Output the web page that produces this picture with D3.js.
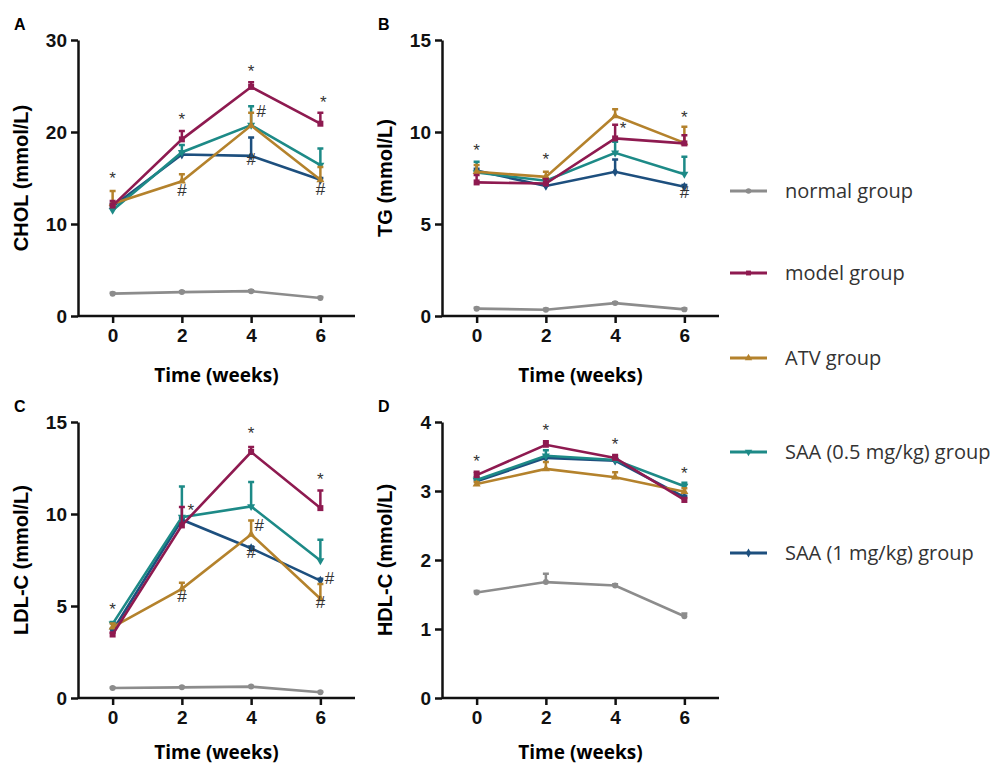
<!DOCTYPE html>
<html>
<head>
<meta charset="utf-8">
<script src="https://cdn.jsdelivr.net/npm/d3@7"></script>
<style>
  body { margin: 0; background: #fff; }
  svg { display: block; }
  .tick text { font-family: "Liberation Sans", Arial, sans-serif; font-weight: bold; font-size: 19px; fill: #111; }
  .axis path, .axis line { stroke: #111; stroke-width: 2.5px; }
</style>
</head>
<body>
<script>
var weeks = [0, 2, 4, 6];
var groups = ["normal group", "model group", "ATV group", "SAA (0.5 mg/kg) group", "SAA (1 mg/kg) group"];
var colors = ["#8c8c8c", "#8e1a50", "#b4822c", "#1d8a87", "#1d4f7e"];
var shapes = [d3.symbolCircle, d3.symbolSquare, d3.symbolTriangle, d3.symbolTriangle, d3.symbolDiamond];

// means per group (normal, model, ATV, SAA 0.5, SAA 1)
var cholMean = [
  [2.43, 2.6, 2.7, 1.96],
  [12.0, 19.2, 24.9, 20.9],
  [12.2, 14.65, 20.7, 14.8],
  [11.5, 17.8, 20.75, 16.4],
  [11.9, 17.55, 17.4, 14.8]
];
var cholSd = [
  [0.1, 0.1, 0.1, 0.1],
  [0.5, 0.9, 0.5, 1.2],
  [1.4, 0.75, 1.4, 1.4],
  [0.4, 0.8, 2.05, 1.8],
  [0.3, 0.3, 2.0, 0.2]
];
var tgMean = [
  [0.4, 0.34, 0.7, 0.36],
  [7.26, 7.2, 9.65, 9.38],
  [7.84, 7.56, 10.88, 9.41],
  [7.8, 7.35, 8.87, 7.71],
  [7.9, 7.07, 7.84, 7.02]
];
var tgSd = [
  [0.05, 0.05, 0.05, 0.05],
  [0.4, 0.25, 0.75, 0.45],
  [0.36, 0.28, 0.35, 0.87],
  [0.58, 0.1, 0.6, 0.94],
  [0.1, 0.1, 0.66, 0.1]
];
var ldlMean = [
  [0.54, 0.58, 0.62, 0.31],
  [3.45, 9.38, 13.37, 10.32],
  [3.85, 5.93, 8.89, 5.39],
  [4.03, 9.83, 10.41, 7.47],
  [3.66, 9.69, 8.14, 6.38]
];
var ldlSd = [
  [0.03, 0.03, 0.03, 0.03],
  [0.1, 1.0, 0.27, 0.96],
  [0.2, 0.33, 0.76, 0.8],
  [0.1, 1.67, 1.33, 1.13],
  [0.1, 0.1, 0.1, 0.1]
];
var hdlMean = [
  [1.53, 1.68, 1.63, 1.185],
  [3.23, 3.67, 3.48, 2.87],
  [3.1, 3.32, 3.2, 2.99],
  [3.16, 3.51, 3.45, 3.07],
  [3.14, 3.48, 3.44, 2.91]
];
var hdlSd = [
  [0.02, 0.12, 0.02, 0.04],
  [0.05, 0.05, 0.04, 0.03],
  [0.03, 0.1, 0.07, 0.05],
  [0.04, 0.08, 0.03, 0.05],
  [0.02, 0.02, 0.02, 0.02]
];

// significance marks: [week, value, symbol, dx]
var cholMarks = [[0, 14.3, "*", 0], [2, 20.8, "*", 0], [4, 26.0, "*", 0], [6, 22.6, "*", 3],
  [2, 13.0, "#", 0], [4, 21.6, "#", 10], [4, 16.4, "#", 0], [6, 13.2, "#", 0]];
var tgMarks = [[0, 8.7, "*", 0], [2, 8.2, "*", 0], [4, 9.9, "*", 8], [6, 10.5, "*", 0], [6, 6.4, "#", 0]];
var ldlMarks = [[0, 4.5, "*", 0], [2, 9.9, "*", 9], [4, 14.1, "*", 0], [6, 11.6, "*", 0],
  [2, 5.2, "#", 0], [4, 9.1, "#", 8], [4, 7.6, "#", 0], [6, 6.2, "#", 9], [6, 4.9, "#", 0]];
var hdlMarks = [[0, 3.35, "*", 0], [2, 3.8, "*", 0], [4, 3.6, "*", 0], [6, 3.18, "*", 0]];

var panels = [
  { letter: "A", title: "CHOL (mmol/L)", mean: cholMean, sd: cholSd, max: 30, ticks: [0, 10, 20, 30], marks: cholMarks, x: 78, y: 40 },
  { letter: "B", title: "TG (mmol/L)", mean: tgMean, sd: tgSd, max: 15, ticks: [0, 5, 10, 15], marks: tgMarks, x: 442, y: 40 },
  { letter: "C", title: "LDL-C (mmol/L)", mean: ldlMean, sd: ldlSd, max: 15, ticks: [0, 5, 10, 15], marks: ldlMarks, x: 78, y: 422 },
  { letter: "D", title: "HDL-C (mmol/L)", mean: hdlMean, sd: hdlSd, max: 4, ticks: [0, 1, 2, 3, 4], marks: hdlMarks, x: 442, y: 422 }
];

var svg = d3.select("body").append("svg").attr("width", 1003).attr("height", 767);

var pw = 277, ph = 276;
var drawOrder = [0, 4, 3, 2, 1];

panels.forEach(function (p, pi) {
  var g = svg.append("g").attr("transform", "translate(" + p.x + "," + p.y + ")");
  var x = d3.scaleLinear().domain([-1, 7]).range([0, pw]);
  var y = d3.scaleLinear().domain([0, p.max]).range([ph, 0]);

  // axes
  g.append("g").attr("class", "axis").attr("transform", "translate(0," + ph + ")")
    .call(d3.axisBottom(x).tickValues(weeks).tickSize(7).tickPadding(6).tickSizeOuter(0))
    .call(function (a) { a.select(".domain").attr("d", "M0,0H" + pw); });
  g.append("g").attr("class", "axis")
    .call(d3.axisLeft(y).tickValues(p.ticks).tickFormat(d3.format("d")).tickSize(7).tickPadding(4).tickSizeOuter(0));

  g.append("text").attr("x", -64).attr("y", -10)
    .style("font-family", "Liberation Sans, Arial, sans-serif").style("font-weight", "bold").style("font-size", "16px")
    .text(p.letter);

  g.append("text").attr("transform", "translate(-50," + ph / 2 + ") rotate(-90)")
    .attr("text-anchor", "middle")
    .style("font-family", "Liberation Sans, Arial, sans-serif").style("font-weight", "bold").style("font-size", "20px")
    .text(p.title);

  g.append("text").attr("x", x(3)).attr("y", ph + (pi < 2 ? 66 : 61)).attr("text-anchor", "middle")
    .style("font-family", "Open Sans, sans-serif").style("font-weight", "bold").style("font-size", "19px")
    .text("Time (weeks)");

  drawOrder.forEach(function (gi) {
    var pts = weeks.map(function (w, i) { return { w: w, m: p.mean[gi][i], s: p.sd[gi][i] }; });
    var col = colors[gi];
    var sg = g.append("g");
    // error bars (upper only)
    sg.selectAll(".err").data(pts).enter().append("path")
      .attr("d", function (d) {
        var cx = x(d.w), y0 = y(d.m), y1 = y(d.m + d.s);
        return "M" + cx + "," + y0 + "V" + y1 + "M" + (cx - 3) + "," + y1 + "H" + (cx + 3);
      })
      .attr("stroke", col).attr("stroke-width", 2.5).attr("fill", "none");
    sg.append("path").datum(pts)
      .attr("d", d3.line().x(function (d) { return x(d.w); }).y(function (d) { return y(d.m); }))
      .attr("stroke", col).attr("stroke-width", 2.6).attr("fill", "none");
    sg.selectAll(".pt").data(pts).enter().append("path")
      .attr("transform", function (d) {
        return "translate(" + x(d.w) + "," + y(d.m) + ")" + (gi === 3 ? " rotate(180)" : "");
      })
      .attr("d", d3.symbol().type(shapes[gi]).size(gi === 1 ? 36 : 28))
      .attr("fill", col);
  });

  g.selectAll(".mark").data(p.marks).enter().append("text")
    .attr("class", "mark")
    .attr("x", function (d) { return x(d[0]) + d[3]; })
    .attr("y", function (d) { return y(d[1]); })
    .attr("text-anchor", "middle")
    .attr("fill", "#333")
    .style("font-family", "Liberation Sans, Arial, sans-serif").style("font-size", "17px")
    .text(function (d) { return d[2]; });
});

// legend
var legendY = [191, 273, 358, 452, 553];
var lg = svg.append("g");
groups.forEach(function (name, gi) {
  var row = lg.append("g").attr("transform", "translate(730," + legendY[gi] + ")");
  row.append("line").attr("x1", 0).attr("x2", 37).attr("stroke", colors[gi]).attr("stroke-width", 3);
  row.append("path").attr("transform", "translate(18.5,0)" + (gi === 3 ? " rotate(180)" : ""))
    .attr("d", d3.symbol().type(shapes[gi]).size(24)).attr("fill", colors[gi]);
  row.append("text").attr("x", 55).attr("y", 7)
    .style("font-family", "Open Sans, sans-serif").style("font-size", "20px").style("fill", "#333")
    .text(name);
});
</script>
</body>
</html>
